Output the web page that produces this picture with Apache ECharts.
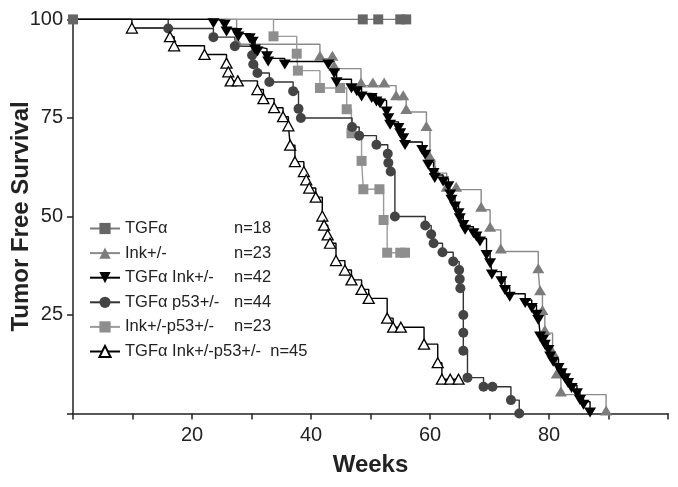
<!DOCTYPE html>
<html><head><meta charset="utf-8">
<script src="https://cdn.jsdelivr.net/npm/echarts@6/dist/echarts.min.js"></script>
<style>html,body{margin:0;padding:0;background:#fff}#c{width:678px;height:487px}</style>
</head><body><div id="c"></div>
<script>
// ---- data ----
const seriesNames = ['TGFα','Ink+/-','TGFα Ink+/-','TGFα p53+/-','Ink+/-p53+/-','TGFα Ink+/-p53+/-'];
const seriesN = [18,23,42,44,23,45];
const xTickLabels = [20,40,60,80];
const yTickLabels = [25,50,75,100];

const tgfaWeeks = [0,48.7,51.3,55.0,56.0];
const tgfaSurv  = [100,100,100,100,100];

const inkWeeks = [0,27.5,41.5,43.6,43.9,48.4,50.4,52.3,54.3,55.5,56.0,59.4,60.0,60.8,62.8,64.4,68.6,70.1,71.9,78.2,78.5,78.9,79.3,80.6,81.3,82.0,89.6];
const inkSurv  = [100,93.7,90.0,90.0,87.5,83.2,83.2,83.2,80.0,80.0,76.5,72.2,64.4,61.0,56.8,56.8,51.7,46.6,41.1,36.1,30.5,25.5,20.4,14.9,9.4,4.8,0];

const tgfaInkWeeks = [0,23.6,25.5,25.8,27.5,27.8,29.7,30.2,30.6,31.0,32.6,32.8,35.6,42.9,43.9,44.3,46.8,47.7,48.5,50.2,51.0,51.6,52.7,53.0,53.3,54.7,55.0,55.5,55.8,58.7,59.2,59.7,60.6,60.8,62.2,63.1,63.4,63.6,64.2,64.8,65.0,65.6,65.9,67.3,67.8,68.4,69.5,70.1,70.4,72.0,72.6,73.4,76.0,77.1,77.9,78.2,78.5,79.0,79.3,79.9,80.2,80.7,81.6,82.1,82.7,83.2,83.8,84.7,85.2,85.8,86.9];
const tgfaInkSurv  = [100,99.8,99.4,97.7,97.3,96.4,96.0,95.1,93.1,92.6,91.4,90.1,89.3,89.3,87.1,84.8,83.3,82.5,81.2,80.8,79.9,79.4,77.4,75.7,74.0,73.2,71.9,70.6,68.9,67.6,66.4,63.9,61.8,60.5,59.6,58.4,56.3,55.0,53.3,51.6,50.3,48.6,47.4,46.5,45.7,44.4,41.0,38.9,36.0,34.3,32.1,30.4,28.8,27.5,25.8,24.5,20.3,19.5,18.2,16.9,15.2,13.9,12.3,11.0,9.7,8.5,7.2,5.9,4.2,3.0,1.0];

const tgfaP53Weeks = [0,16.0,23.6,27.2,30.1,30.3,31.0,33.0,37.0,37.9,38.3,46.9,48.1,51.0,52.9,53.0,53.4,54.1,59.2,60.2,60.6,62.1,63.9,64.9,65.0,65.1,65.6,65.6,65.6,66.3,69.0,70.5,73.6,75.0];
const tgfaP53Surv  = [100,97.7,95.5,93.2,90.9,88.6,86.4,84.1,81.8,77.3,75.0,72.7,70.5,68.2,65.9,63.6,61.4,50.0,47.7,45.5,43.2,40.9,38.6,36.4,34.1,31.8,25.0,20.5,15.9,9.1,6.8,6.8,3.4,0];

const inkP53Weeks = [0,33.7,37.6,37.8,41.5,44.9,46.0,46.8,48.5,48.8,51.5,52.2,52.8,55.0,55.8];
const inkP53Surv  = [100,95.7,91.3,87.0,82.6,82.6,77.2,71.1,64.1,56.9,56.9,49.1,40.8,40.8,40.8];

const tripleWeeks = [0,9.9,16.3,17.0,22.1,25.8,26.1,26.5,27.7,31.0,32.0,33.8,35.3,36.2,36.5,37.3,38.8,39.2,39.7,40.8,41.9,42.2,42.8,43.2,44.2,45.7,46.8,48.5,49.7,52.8,53.8,55.1,59.0,61.3,62.0,63.4,64.8];
const tripleSurv  = [100,97.8,95.6,93.3,91.1,88.9,86.7,84.4,84.4,82.2,79.9,77.6,75.3,73.0,68.1,63.9,61.4,59.3,57.2,54.9,50.1,47.8,45.3,43.2,38.8,36.4,33.9,31.5,29.2,24.2,21.9,21.9,17.6,12.9,8.7,8.7,8.7];

// ---- build ----
function pairs(w, s, hideFirst){
  return w.map((x,i)=> (hideFirst && i===0) ? {value:[x,s[i]], symbol:'none'} : [x,s[i]]);
}
const FONT = 'Liberation Sans, Arial, sans-serif';
function mk(name, w, s, opts){
  return Object.assign({
    name, type:'line', step:'end', clip:false,
    data: pairs(w, s, opts.hideFirst !== false),
    lineStyle:{color:opts.line, width:1.4},
    emphasis:{disabled:true}
  }, opts.extra);
}
const series = [
  mk(seriesNames[0], tgfaWeeks, tgfaSurv, {hideFirst:false, line:'#7a7a7a', extra:{symbol:'rect', symbolSize:10, itemStyle:{color:'#666'}}}),
  mk(seriesNames[1], inkWeeks, inkSurv, {line:'#8a8a8a', extra:{symbol:'triangle', symbolSize:[12,10], symbolOffset:[0,-3], itemStyle:{color:'#7c7c7c'}}}),
  mk(seriesNames[4], inkP53Weeks, inkP53Surv, {line:'#9c9c9c', extra:{symbol:'rect', symbolSize:10, itemStyle:{color:'#8e8e8e'}}}),
  mk(seriesNames[3], tgfaP53Weeks, tgfaP53Surv, {line:'#333', extra:{symbol:'circle', symbolSize:10, itemStyle:{color:'#444'}}}),
  mk(seriesNames[2], tgfaInkWeeks, tgfaInkSurv, {line:'#000', extra:{symbol:'triangle', symbolRotate:180, symbolSize:[12,10], symbolOffset:[0,3], itemStyle:{color:'#000'}}}),
  mk(seriesNames[5], tripleWeeks, tripleSurv, {line:'#000', extra:{symbol:'triangle', symbolSize:[11,10], itemStyle:{color:'#fff', borderColor:'#000', borderWidth:1.3}}})
];

const chart = echarts.init(document.getElementById('c'), null, {renderer:'canvas'});
chart.setOption({
  animation:false,
  backgroundColor:'#fff',
  grid:{left:73, right:10, top:19.4, bottom:73.5, containLabel:false, outerBoundsMode:'none'},
  xAxis:{
    type:'value', min:0, max:100, interval:10,
    name:'Weeks', nameLocation:'middle', nameGap:40, nameMoveOverlap:false,
    nameTextStyle:{fontSize:24, fontWeight:'bold', color:'#222', fontFamily:FONT},
    axisLine:{show:true, onZero:false, lineStyle:{color:'#222', width:1.5}},
    axisTick:{show:true, length:6, lineStyle:{color:'#222', width:1.5}},
    axisLabel:{formatter:v=> xTickLabels.includes(v) ? String(v) : '', fontSize:20, color:'#222', margin:12, fontFamily:FONT},
    splitLine:{show:false}
  },
  yAxis:{
    type:'value', min:0, max:100, interval:25,
    name:'Tumor Free Survival', nameLocation:'middle', nameGap:40, nameMoveOverlap:false,
    nameTextStyle:{fontSize:24, fontWeight:'bold', color:'#222', fontFamily:FONT},
    axisLine:{show:true, onZero:false, lineStyle:{color:'#222', width:1.5}},
    axisTick:{show:true, length:6, lineStyle:{color:'#222', width:1.5}},
    axisLabel:{formatter:v=> yTickLabels.includes(v) ? String(v) : '', fontSize:20, color:'#222', margin:10, fontFamily:FONT},
    splitLine:{show:false}
  },
  legend:{
    data:seriesNames, orient:'vertical', left:84, top:215,
    itemWidth:30, itemHeight:14, itemGap:7.6,
    selectedMode:false,
    textStyle:{fontSize:16.5, color:'#222', fontFamily:FONT, lineHeight:14,
      rich:{a:{width:109, fontSize:16.5, fontFamily:FONT, color:'#222', lineHeight:14},
            c:{fontSize:16.5, fontFamily:FONT, color:'#222', lineHeight:14}}},
    formatter:function(name){
      const i = seriesNames.indexOf(name);
      if (name.length > 14) return '{c|' + name + '  n=' + seriesN[i] + '}';
      return '{a|' + name + '}{c|n=' + seriesN[i] + '}';
    }
  },
  series
});
</script></body></html>
